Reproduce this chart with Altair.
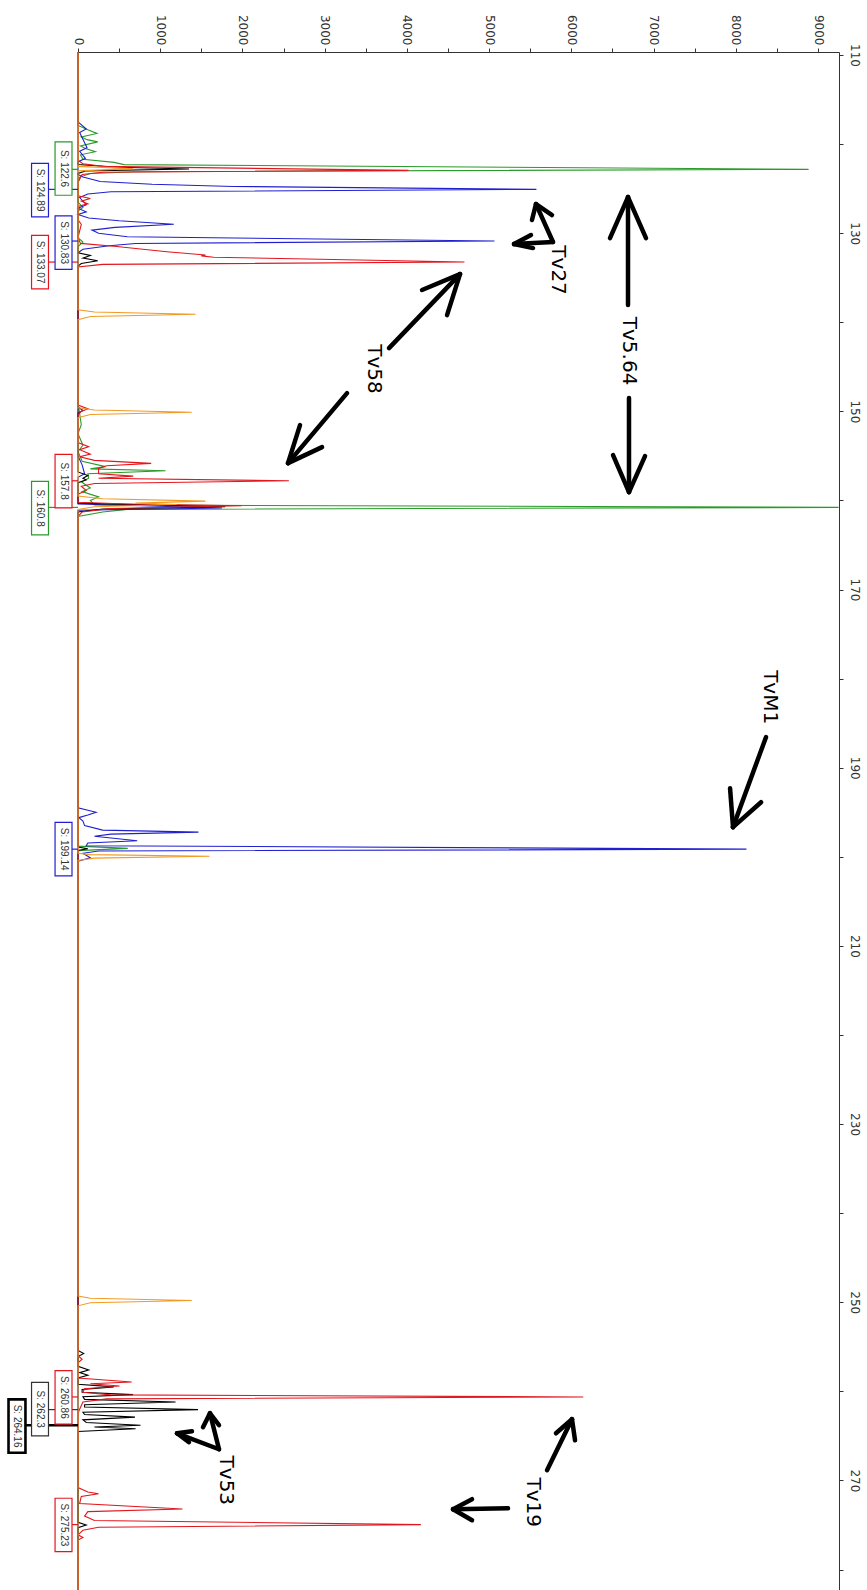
import altair as alt
import pandas as pd

# ---------------- data ----------------
# each trace: (size in bp, signal in RFU)
GREEN = [(109.7, 0), (117.9, 0), (118.4, 120), (118.8, 230), (119.2, 40), (119.5, 110), (119.75, 240),
         (120.2, 30), (120.5, 90), (120.85, 210), (121.2, 30), (121.7, 60), (122.05, 440), (122.3, 560),
         (122.83, 8885), (123.1, 700), (123.3, 150), (123.7, 20), (124.3, 0), (126.5, 0), (127.1, 60),
         (127.5, 0), (130.5, 0), (131.0, 60), (131.5, 0), (149.0, 0), (151.5, 40), (152.5, 0), (153.8, 60),
         (154.5, 0), (155.6, 50), (156.2, 335), (156.45, 150), (156.67, 1065), (157.0, 120), (157.5, 130),
         (157.9, 40), (158.6, 150), (159.0, 50), (159.6, 250), (160.0, 150), (160.5, 200), (160.78, 9250),
         (161.0, 600), (161.3, 300), (161.8, 0), (198.8, 0), (199.05, 605), (199.3, 0), (282.3, 0)]

BLUE = [(109.7, 0), (117.5, 0), (118.3, 100), (118.7, 20), (120.4, 110), (120.8, 20), (121.6, 90), (122.0, 0),
        (123.4, 0), (123.7, 60), (124.2, 270), (124.5, 900), (124.75, 1890), (125.08, 5575), (125.35, 400),
        (125.6, 120), (126.0, 20), (126.8, 100), (127.2, 0), (127.6, 100), (127.9, 0), (128.3, 130),
        (128.6, 500), (129.0, 1165), (129.35, 450), (129.65, 170), (130.0, 250), (130.4, 600), (130.88, 5065),
        (131.15, 700), (131.4, 380), (131.8, 60), (132.2, 0), (149.5, 0), (149.9, 60), (150.2, 0), (155.0, 0),
        (156.0, 50), (157.0, 80), (157.4, 0), (160.4, 0), (160.85, 1750), (161.1, 0), (194.5, 0), (195.0, 220),
        (195.3, 120), (195.6, 10), (196.0, 60), (196.5, 80), (197.0, 300), (197.23, 1465), (197.45, 400),
        (197.7, 200), (198.2, 720), (198.45, 120), (198.75, 100), (199.14, 8130), (199.35, 250), (199.6, 60),
        (200.1, 150), (200.5, 0), (282.3, 0)]

RED = [(109.7, 0), (121.8, 0), (122.2, 60), (122.5, 300), (122.95, 4020), (123.15, 300), (123.4, 50),
       (124.3, 0), (125.8, 0), (126.1, 150), (126.4, 40), (126.7, 120), (127.0, 0), (128.5, 0), (129.0, 40),
       (130.5, 0), (131.14, 30), (131.5, 470), (132.08, 1080), (132.45, 1550), (132.55, 1500), (132.7, 1650),
       (133.24, 4700), (133.5, 300), (133.8, 0), (149.3, 0), (149.7, 120), (150.0, 40), (150.4, 0), (153.5, 0),
       (153.97, 130), (154.3, 20), (154.8, 150), (155.1, 20), (155.5, 200), (155.84, 890), (156.1, 350),
       (156.4, 250), (157.0, 250), (157.27, 672), (157.5, 250), (157.79, 2565), (158.1, 200), (158.4, 40),
       (158.9, 100), (159.3, 0), (160.2, 0), (160.4, 600), (160.6, 1990), (160.9, 400), (161.3, 50), (161.8, 0),
       (256.0, 0), (256.4, 50), (256.8, 0), (258.5, 0), (258.95, 653), (259.15, 150), (259.4, 505), (259.7, 80),
       (260.1, 60), (260.4, 400), (260.63, 6145), (260.85, 350), (261.2, 60), (262.0, 20), (262.5, 0),
       (270.8, 0), (271.3, 120), (271.5, 250), (271.8, 40), (272.6, 20), (273.2, 1270), (273.5, 120),
       (274.0, 80), (274.5, 200), (274.96, 4170), (275.25, 250), (275.6, 60), (276.1, 0), (276.4, 60),
       (276.7, 0), (282.3, 0)]

BLACK = [(109.7, 0), (122.3, 0), (122.6, 500), (122.8, 1350), (123.0, 100), (123.3, 0), (132.2, 0), (132.5, 150),
         (132.8, 60), (133.1, 240), (133.4, 40), (133.7, 0), (156.8, 0), (157.2, 120), (157.5, 60), (157.7, 100),
         (158.0, 0), (160.3, 0), (160.5, 800), (160.7, 1790), (160.95, 300), (161.3, 0), (198.9, 0), (199.1, 120),
         (199.3, 0), (255.4, 0), (255.76, 70), (256.1, 0), (257.2, 0), (257.6, 130), (257.9, 20), (258.2, 120),
         (258.5, 0), (259.2, 0), (259.5, 435), (259.8, 50), (260.1, 50), (260.37, 670), (260.6, 60), (260.9, 80),
         (261.2, 1187), (261.5, 80), (261.75, 80), (262.05, 1460), (262.35, 60), (262.6, 80), (262.9, 693),
         (263.2, 60), (263.5, 100), (263.8, 760), (264.0, 200), (264.2, 700), (264.5, 0), (274.7, 0),
         (275.0, 100), (275.3, 0), (282.3, 0)]

ORANGE = [(109.7, 0), (122.5, 0), (122.75, 670), (123.0, 0), (138.6, 0), (138.85, 200), (139.1, 1430),
          (139.35, 150), (139.7, 0), (149.6, 0), (149.85, 200), (150.1, 1383), (150.35, 150), (150.7, 0),
          (159.5, 0), (159.8, 300), (160.07, 1550), (160.3, 700), (160.45, 1200), (160.7, 200), (161.0, 0),
          (199.6, 0), (199.75, 150), (199.93, 1600), (200.15, 200), (200.4, 0), (249.3, 0), (249.55, 150),
          (249.8, 1383), (250.05, 150), (250.4, 0), (282.3, 0)]

# size-call boxes: text, colour, box centre (bp), column, peak (bp), border width
LABELS = [
    ("S: 122.6", "#2a9a2a", 122.74, 1, 122.83, 1.2),
    ("S: 124.89", "#2020d0", 125.16, 2, 125.08, 1.2),
    ("S: 130.83", "#2020d0", 131.05, 1, 130.88, 1.2),
    ("S: 133.07", "#e3161e", 133.24, 2, 133.24, 1.2),
    ("S: 157.8", "#e3161e", 157.83, 1, 157.79, 1.2),
    ("S: 160.8", "#2a9a2a", 160.86, 2, 160.78, 1.2),
    ("S: 199.14", "#2020d0", 199.14, 1, 199.14, 1.2),
    ("S: 260.86", "#e3161e", 260.67, 1, 260.63, 1.2),
    ("S: 262.3", "#333333", 262.0, 2, 262.05, 1.2),
    ("S: 264.16", "#000000", 263.9, 3, 263.8, 2.6),
    ("S: 275.23", "#e3161e", 275.0, 1, 274.96, 1.2),
]

# annotation texts: text, RFU, bp
ANNOT = [("Tv5.64", 6701, 143.23), ("Tv27", 5838, 134.14), ("Tv58", 3600, 145.25),
         ("TvM1", 8416, 182.08), ("Tv53", 1800, 269.99), ("Tv19", 5534, 272.45)]

# arrows: tail (RFU, bp), tip (RFU, bp), head arm 1, head arm 2
ARROWS = [
    ((6689, 138.07), (6689, 125.94), (6470, 130.55), (6908, 130.55)),
    ((6701, 148.51), (6701, 159.06), (6507, 154.91), (6896, 155.02)),
    ((5777, 130.99), (5570, 126.73), (5521, 128.52), (5765, 127.96)),
    ((5777, 130.99), (5303, 131.22), (5509, 130.21), (5534, 131.67)),
    ((3782, 142.90), (4646, 134.59), (4184, 136.38), (4488, 139.19)),
    ((3272, 147.95), (2554, 155.81), (2700, 151.54), (2968, 154.01)),
    ((8367, 186.57), (7966, 196.67), (7930, 192.30), (8307, 193.87)),
    ((1715, 266.50), (1605, 262.46), (1520, 264.03), (1715, 263.80)),
    ((1715, 266.50), (1204, 264.71), (1386, 264.48), (1350, 265.71)),
    ((5704, 268.86), (6008, 263.13), (5813, 264.71), (6045, 265.50)),
    ((5230, 273.12), (4561, 273.23), (4792, 272.11), (4792, 274.47)),
]

X_TICKS = list(range(0, 9001, 500))
Y_TICKS = list(range(110, 281, 10))

# ---------------- layout / style ----------------
X_DOMAIN = [0, 9255]
Y_DOMAIN = [109.66, 282.3]
COL_X = {1: -176, 2: -462, 3: -742}
HALF_W = 103
HALF_H = 3.0

xscale = alt.Scale(domain=X_DOMAIN, nice=False, zero=False)
yscale = alt.Scale(domain=Y_DOMAIN, reverse=True, nice=False, zero=False)

xaxis = alt.Axis(orient="top", values=X_TICKS, title="", grid=False,
                 labelExpr="datum.value % 1000 == 0 ? format(datum.value, 'd') : ''",
                 labelAngle=90, labelAlign="right", labelBaseline="middle", labelFlush=False,
                 labelOverlap=False, labelPadding=3, tickSize=4, labelFont="DejaVu Sans",
                 labelFontSize=12, labelColor="#333333", domainColor="#333333", tickColor="#333333")
yaxis = alt.Axis(orient="right", values=Y_TICKS, title="", grid=False,
                 labelExpr="(datum.value - 110) % 20 == 0 ? format(datum.value, 'd') : ''",
                 labelAngle=90, labelAlign="center", labelBaseline="bottom", labelFlush=False,
                 labelOverlap=False, labelPadding=4, tickSize=4, labelFont="DejaVu Sans",
                 labelFontSize=12, labelColor="#333333", domainColor="#333333", tickColor="#333333")


def X(field):
    return alt.X(field, scale=xscale, axis=xaxis)


def Y(field):
    return alt.Y(field, scale=yscale, axis=yaxis)


SERIES = [("green", GREEN, "#2a9a2a"), ("blue", BLUE, "#2020d0"), ("black", BLACK, "#000000"),
          ("red", RED, "#e3161e"), ("orange", ORANGE, "#f39a22")]

layers = []
for name, pts, col in SERIES:
    df = pd.DataFrame({"bp": [p[0] for p in pts], "rfu": [p[1] for p in pts], "i": list(range(len(pts)))})
    layers.append(
        alt.Chart(df).mark_line(color=col, strokeWidth=1.1).encode(
            x=X("rfu:Q"), y=Y("bp:Q"), order=alt.Order("i:Q"),
        )
    )

# arrows
seg = []
for tail, tip, a1, a2 in ARROWS:
    seg.append(dict(r1=tail[0], b1=tail[1], r2=tip[0], b2=tip[1]))
    seg.append(dict(r1=tip[0], b1=tip[1], r2=a1[0], b2=a1[1]))
    seg.append(dict(r1=tip[0], b1=tip[1], r2=a2[0], b2=a2[1]))
seg_df = pd.DataFrame(seg)
layers.append(
    alt.Chart(seg_df).mark_rule(color="black", strokeWidth=4.5, strokeCap="round").encode(
        x=X("r1:Q"), y=Y("b1:Q"), x2="r2:Q", y2="b2:Q")
)

ann_df = pd.DataFrame({"t": [a[0] for a in ANNOT], "r": [a[1] for a in ANNOT], "b": [a[2] for a in ANNOT]})
layers.append(
    alt.Chart(ann_df).mark_text(angle=90, align="center", baseline="middle", font="DejaVu Sans",
                                fontSize=20, color="black").encode(
        x=X("r:Q"), y=Y("b:Q"), text="t:N")
)

# size-call boxes
lab_rows = []
for text, col, bc, c, peak, sw in LABELS:
    xc = COL_X[c]
    lab_rows.append(dict(text=text, color=col, xc=xc, x1=xc - HALF_W, x2=xc + HALF_W,
                         yc=bc, y1=bc - HALF_H, y2=bc + HALF_H, peak=peak, zero=0, sw=sw))
lab_df = pd.DataFrame(lab_rows)

layers.append(
    alt.Chart(lab_df).mark_rule(clip=False).encode(
        x=X("x2:Q"), x2="zero:Q", y=Y("peak:Q"),
        stroke=alt.Stroke("color:N", scale=None, legend=None),
        strokeWidth=alt.StrokeWidth("sw:Q", scale=None, legend=None))
)
layers.append(
    alt.Chart(lab_df).mark_rect(fill="white", clip=False).encode(
        x=X("x1:Q"), x2="x2:Q", y=Y("y1:Q"), y2="y2:Q",
        stroke=alt.Stroke("color:N", scale=None, legend=None),
        strokeWidth=alt.StrokeWidth("sw:Q", scale=None, legend=None))
)
layers.append(
    alt.Chart(lab_df).mark_text(angle=90, align="center", baseline="middle", font="Liberation Sans",
                                fontSize=10, color="#333333", clip=False).encode(
        x=X("xc:Q"), y=Y("yc:Q"), text="text:N")
)

chart = alt.layer(*layers).properties(
    width=761, height=1538,
    autosize=alt.AutoSizeParams(type="none"),
    padding={"left": 78, "top": 52, "right": 28, "bottom": 0},
).configure_view(stroke="transparent")

chart.save("out.html", embed_options={"renderer": "svg", "actions": False})
